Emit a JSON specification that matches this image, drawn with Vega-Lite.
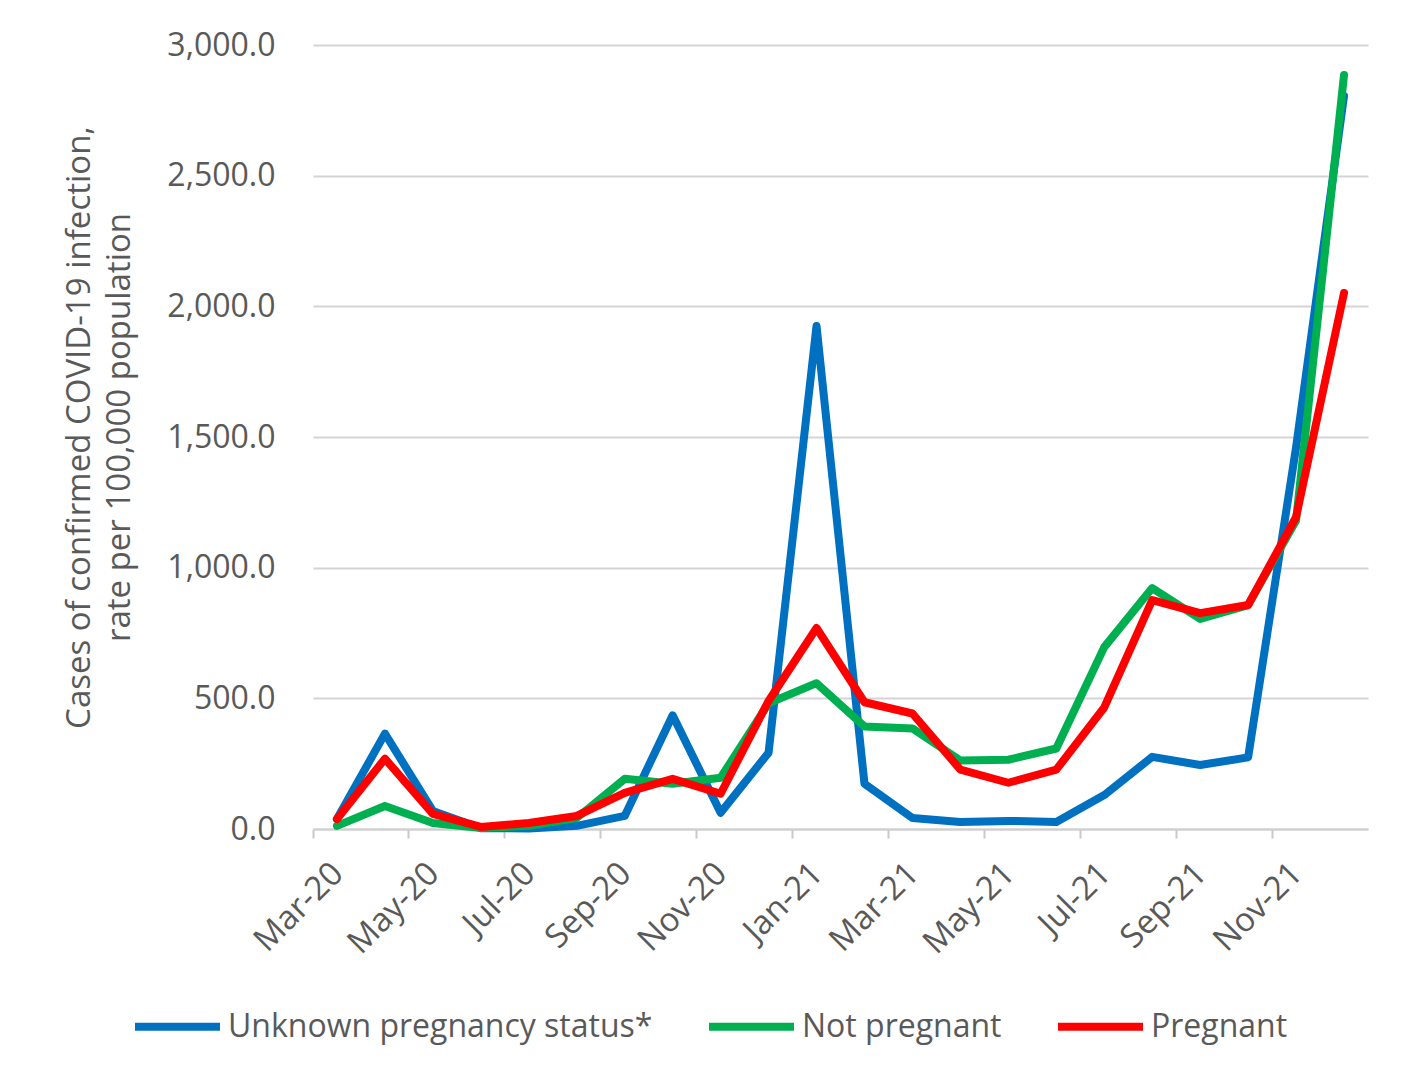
{
  "$schema": "https://vega.github.io/schema/vega-lite/v6.json",
  "autosize": {"type": "none"},
  "width": 1055,
  "height": 784,
  "padding": {"left": 313, "top": 45, "right": 49, "bottom": 260},
  "background": "white",
  "config": {
    "font": "Open Sans",
    "view": {"stroke": null},
    "axis": {"labelColor": "#595959", "titleColor": "#595959", "labelFont": "Open Sans", "titleFont": "Open Sans", "titleFontWeight": "normal"}
  },
  "data": {
    "values": [
      {"month": "Mar-20", "status": "Unknown pregnancy status*", "rate": 38},
      {"month": "Apr-20", "status": "Unknown pregnancy status*", "rate": 365},
      {"month": "May-20", "status": "Unknown pregnancy status*", "rate": 69},
      {"month": "Jun-20", "status": "Unknown pregnancy status*", "rate": 3},
      {"month": "Jul-20", "status": "Unknown pregnancy status*", "rate": 2},
      {"month": "Aug-20", "status": "Unknown pregnancy status*", "rate": 12},
      {"month": "Sep-20", "status": "Unknown pregnancy status*", "rate": 50},
      {"month": "Oct-20", "status": "Unknown pregnancy status*", "rate": 435},
      {"month": "Nov-20", "status": "Unknown pregnancy status*", "rate": 62},
      {"month": "Dec-20", "status": "Unknown pregnancy status*", "rate": 292},
      {"month": "Jan-21", "status": "Unknown pregnancy status*", "rate": 1925},
      {"month": "Feb-21", "status": "Unknown pregnancy status*", "rate": 173},
      {"month": "Mar-21", "status": "Unknown pregnancy status*", "rate": 42},
      {"month": "Apr-21", "status": "Unknown pregnancy status*", "rate": 27},
      {"month": "May-21", "status": "Unknown pregnancy status*", "rate": 31},
      {"month": "Jun-21", "status": "Unknown pregnancy status*", "rate": 27},
      {"month": "Jul-21", "status": "Unknown pregnancy status*", "rate": 130},
      {"month": "Aug-21", "status": "Unknown pregnancy status*", "rate": 276},
      {"month": "Sep-21", "status": "Unknown pregnancy status*", "rate": 245},
      {"month": "Oct-21", "status": "Unknown pregnancy status*", "rate": 274},
      {"month": "Nov-21", "status": "Unknown pregnancy status*", "rate": 1460},
      {"month": "Dec-21", "status": "Unknown pregnancy status*", "rate": 2805},
      {"month": "Mar-20", "status": "Not pregnant", "rate": 12},
      {"month": "Apr-20", "status": "Not pregnant", "rate": 88},
      {"month": "May-20", "status": "Not pregnant", "rate": 23},
      {"month": "Jun-20", "status": "Not pregnant", "rate": 4},
      {"month": "Jul-20", "status": "Not pregnant", "rate": 12},
      {"month": "Aug-20", "status": "Not pregnant", "rate": 42},
      {"month": "Sep-20", "status": "Not pregnant", "rate": 192},
      {"month": "Oct-20", "status": "Not pregnant", "rate": 173},
      {"month": "Nov-20", "status": "Not pregnant", "rate": 196},
      {"month": "Dec-20", "status": "Not pregnant", "rate": 481},
      {"month": "Jan-21", "status": "Not pregnant", "rate": 558},
      {"month": "Feb-21", "status": "Not pregnant", "rate": 392},
      {"month": "Mar-21", "status": "Not pregnant", "rate": 385},
      {"month": "Apr-21", "status": "Not pregnant", "rate": 262},
      {"month": "May-21", "status": "Not pregnant", "rate": 265},
      {"month": "Jun-21", "status": "Not pregnant", "rate": 308},
      {"month": "Jul-21", "status": "Not pregnant", "rate": 696},
      {"month": "Aug-21", "status": "Not pregnant", "rate": 922},
      {"month": "Sep-21", "status": "Not pregnant", "rate": 804},
      {"month": "Oct-21", "status": "Not pregnant", "rate": 857},
      {"month": "Nov-21", "status": "Not pregnant", "rate": 1180},
      {"month": "Dec-21", "status": "Not pregnant", "rate": 2885},
      {"month": "Mar-20", "status": "Pregnant", "rate": 38},
      {"month": "Apr-20", "status": "Pregnant", "rate": 269},
      {"month": "May-20", "status": "Pregnant", "rate": 58},
      {"month": "Jun-20", "status": "Pregnant", "rate": 8},
      {"month": "Jul-20", "status": "Pregnant", "rate": 23},
      {"month": "Aug-20", "status": "Pregnant", "rate": 50},
      {"month": "Sep-20", "status": "Pregnant", "rate": 138},
      {"month": "Oct-20", "status": "Pregnant", "rate": 192},
      {"month": "Nov-20", "status": "Pregnant", "rate": 135},
      {"month": "Dec-20", "status": "Pregnant", "rate": 490},
      {"month": "Jan-21", "status": "Pregnant", "rate": 769},
      {"month": "Feb-21", "status": "Pregnant", "rate": 485},
      {"month": "Mar-21", "status": "Pregnant", "rate": 442},
      {"month": "Apr-21", "status": "Pregnant", "rate": 227},
      {"month": "May-21", "status": "Pregnant", "rate": 177},
      {"month": "Jun-21", "status": "Pregnant", "rate": 227},
      {"month": "Jul-21", "status": "Pregnant", "rate": 465},
      {"month": "Aug-21", "status": "Pregnant", "rate": 876},
      {"month": "Sep-21", "status": "Pregnant", "rate": 826},
      {"month": "Oct-21", "status": "Pregnant", "rate": 857},
      {"month": "Nov-21", "status": "Pregnant", "rate": 1194},
      {"month": "Dec-21", "status": "Pregnant", "rate": 2051}
    ]
  },
  "mark": {"type": "line", "strokeWidth": 8, "strokeJoin": "round", "strokeCap": "round"},
  "encoding": {
    "x": {
      "field": "month",
      "type": "ordinal",
      "sort": null,
      "scale": {"type": "band", "paddingInner": 0, "paddingOuter": 0},
      "axis": {
        "title": null,
        "values": ["Mar-20", "May-20", "Jul-20", "Sep-20", "Nov-20", "Jan-21", "Mar-21", "May-21", "Jul-21", "Sep-21", "Nov-21"],
        "bandPosition": 0,
        "labelOffset": 1,
        "labelAngle": -45,
        "labelAlign": "right",
        "labelBaseline": "middle",
        "labelFontSize": 33,
        "labelPadding": 30,
        "domainColor": "#d0d0d0",
        "domainWidth": 2,
        "tickColor": "#c8c8c8",
        "tickWidth": 2,
        "tickSize": 9,
        "grid": false
      }
    },
    "y": {
      "field": "rate",
      "type": "quantitative",
      "scale": {"domain": [0, 3000], "nice": false},
      "axis": {
        "title": ["Cases of confirmed COVID-19 infection,", "rate per 100,000  population"],
        "titleFontSize": 33,
        "titleLineHeight": 40,
        "titlePadding": 30,
        "titleY": 382,
        "values": [0, 500, 1000, 1500, 2000, 2500, 3000],
        "format": ",.1f",
        "labelFontSize": 32,
        "labelPadding": 38,
        "ticks": false,
        "domain": false,
        "gridColor": "#d6d3d8",
        "gridWidth": 2
      }
    },
    "color": {
      "field": "status",
      "type": "nominal",
      "scale": {"domain": ["Unknown pregnancy status*", "Not pregnant", "Pregnant"], "range": ["#0070c0", "#00b050", "#ff0000"]},
      "legend": {
        "title": null,
        "orient": "none",
        "legendX": -182,
        "legendY": 935,
        "direction": "horizontal",
        "symbolType": "stroke",
        "symbolSize": 7225,
        "symbolStrokeWidth": 8,
        "labelFontSize": 32,
        "labelColor": "#595959",
        "labelFont": "Open Sans",
        "labelLimit": 0,
        "labelOffset": 4,
        "columnPadding": 40
      }
    }
  }
}
